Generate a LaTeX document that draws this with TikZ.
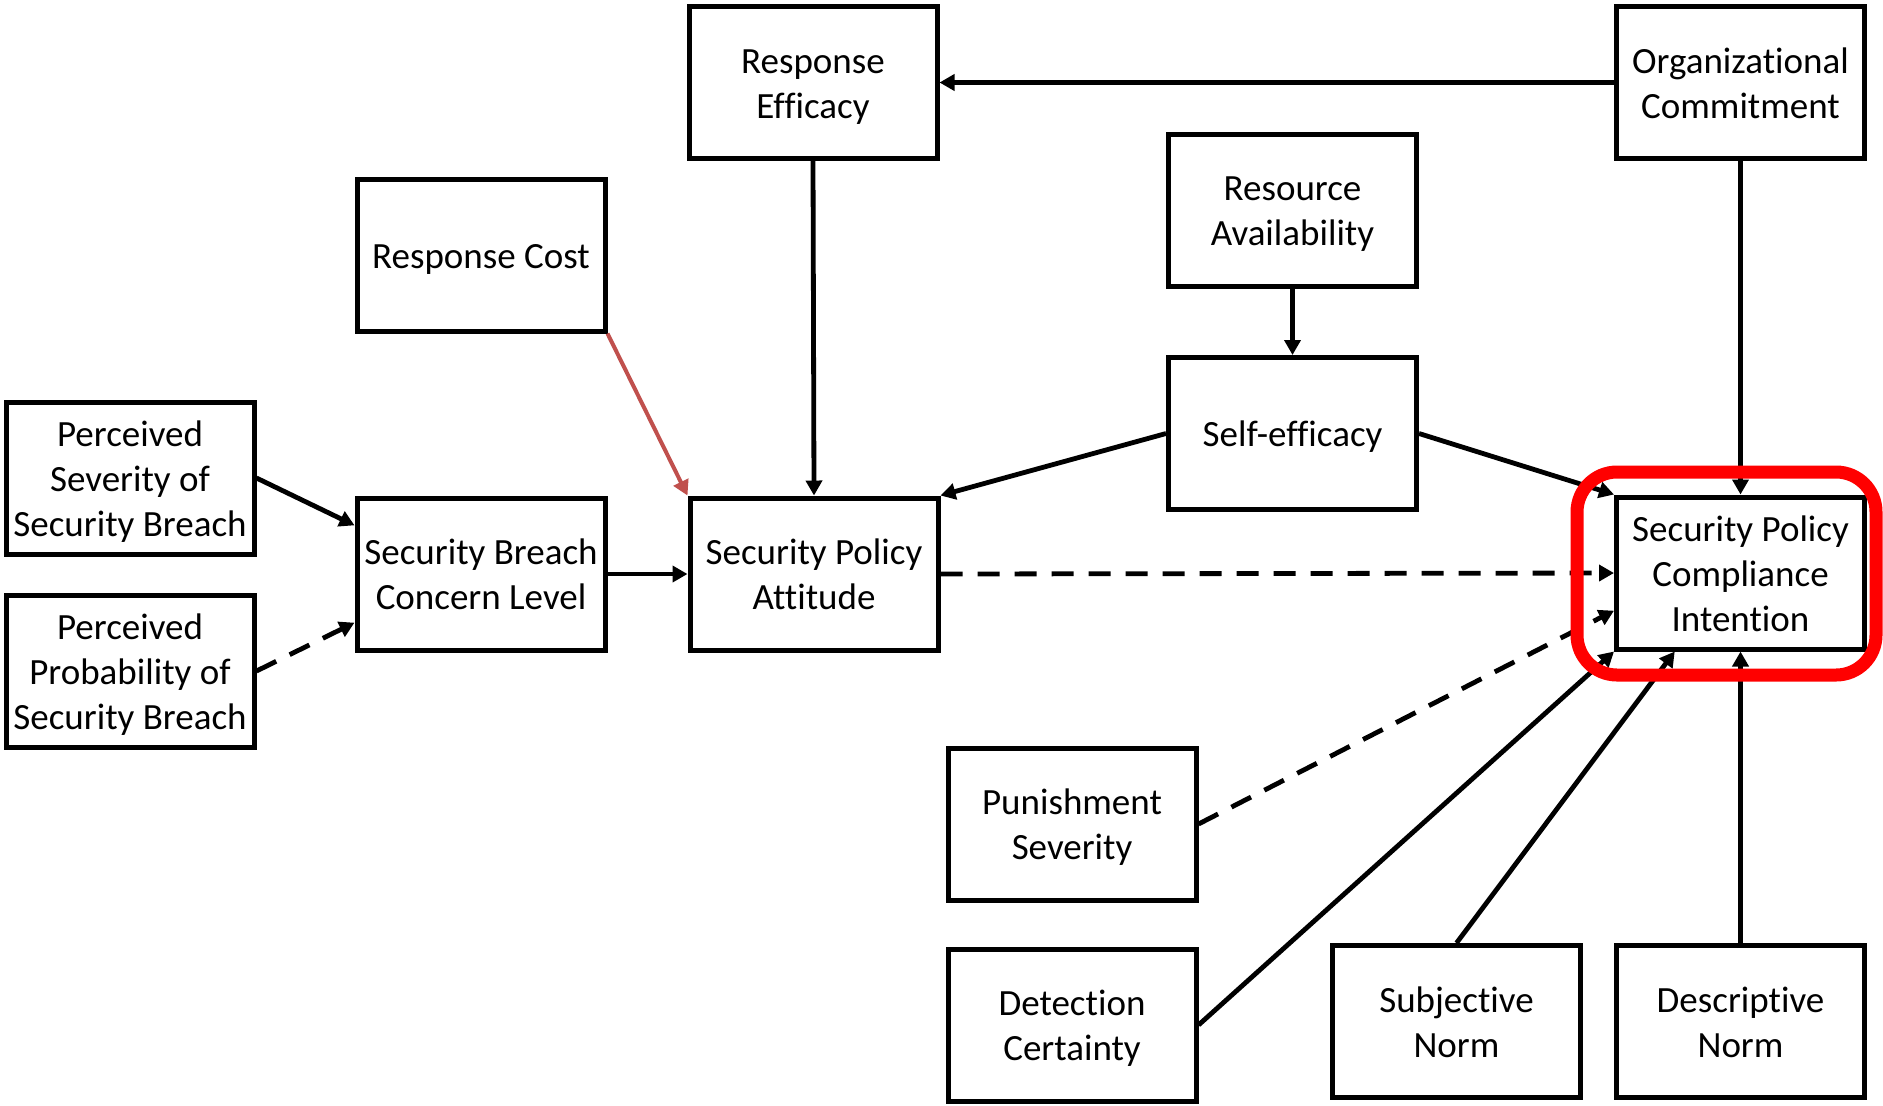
\documentclass[tikz,border=0pt]{standalone}
\usepackage{fontspec}
\setmainfont{Carlito}[Ligatures=NoCommon]
\usetikzlibrary{arrows.meta,calc}
\definecolor{costred}{HTML}{C0504D}
\definecolor{focusred}{HTML}{FF0000}
% centred label block, set a little lower than its natural middle
\newcommand\boxtext[1]{\raisebox{-2pt}[\height][\depth]{\begin{tabular}{@{}c@{}}#1\end{tabular}}}
\begin{document}
\begin{tikzpicture}[x=0.5pt,y=-0.5pt,
  box/.style={draw,line width=2.5pt,minimum width=124pt,minimum height=76pt,
    inner sep=0pt,font=\fontsize{18.5}{22.5}\selectfont},
  link/.style={line width=2.4pt,-{Triangle[length=7.5pt,width=8pt]}},
  dlink/.style={link,dash pattern=on 11pt off 7.5pt},
]
\useasboundingbox (0,0) rectangle (1883,1105);

% constructs
\node[box] (reff)  at (813,82.5)     {\boxtext{Response\\Efficacy}};
\node[box] (org)   at (1740.5,82.5)  {\boxtext{Organizational\\Commitment}};
\node[box] (avail) at (1292.5,210)   {\boxtext{Resource\\Availability}};
\node[box] (rcost) at (481,255)      {\boxtext{Response Cost}};
\node[box] (self)  at (1292.5,433.5) {\boxtext{Self-efficacy}};
\node[box] (sev)   at (130,478)      {\boxtext{Perceived\\Severity of\\Security Breach}};
\node[box] (conc)  at (481,574)      {\boxtext{Security Breach\\Concern Level}};
\node[box] (att)   at (814,574)      {\boxtext{Security Policy\\Attitude}};
\node[box] (cmp)   at (1740.5,573)   {\boxtext{Security Policy\\Compliance\\Intention}};
\node[box] (prob)  at (130,671)      {\boxtext{Perceived\\Probability of\\Security Breach}};
\node[box] (pun)   at (1072,824)     {\boxtext{Punishment\\Severity}};
\node[box] (det)   at (1072,1025)    {\boxtext{Detection\\Certainty}};
\node[box] (subj)  at (1456.5,1021.5){\boxtext{Subjective\\Norm}};
\node[box] (desc)  at (1740.5,1021.5){\boxtext{Descriptive\\Norm}};

% paths
\draw[link] (org.west) -- (reff.east);
\draw[link] (reff.south) -- (att.north);
\draw[link,costred,line width=2pt] (rcost.south east) -- (att.north west);
\draw[link] (avail.south) -- (self.north);
\draw[link] (self.west) -- (att.north east);
\draw[link] (self.east) -- (cmp.north west);
\draw[link] (org.south) -- (cmp.north);
\draw[link] (sev.east) -- ($(conc.north west)!0.19!(conc.south west)$);
\draw[dlink] (prob.east) -- ($(conc.north west)!0.81!(conc.south west)$);
\draw[link] (conc.east) -- (att.west);
\draw[dlink] (att.east) -- (cmp.west);
\draw[dlink] (pun.east) -- ($(cmp.north west)!0.74!(cmp.south west)$);
\draw[link] (det.east) -- (cmp.south west);
\draw[link] (subj.north) -- ($(cmp.south west)!0.24!(cmp.south east)$);
\draw[link] (desc.north) -- (cmp.south);

% highlight around the outcome construct
\draw[focusred,line width=6.5pt,rounded corners=20pt] (1577,472) rectangle (1876,675);
\end{tikzpicture}
\end{document}
